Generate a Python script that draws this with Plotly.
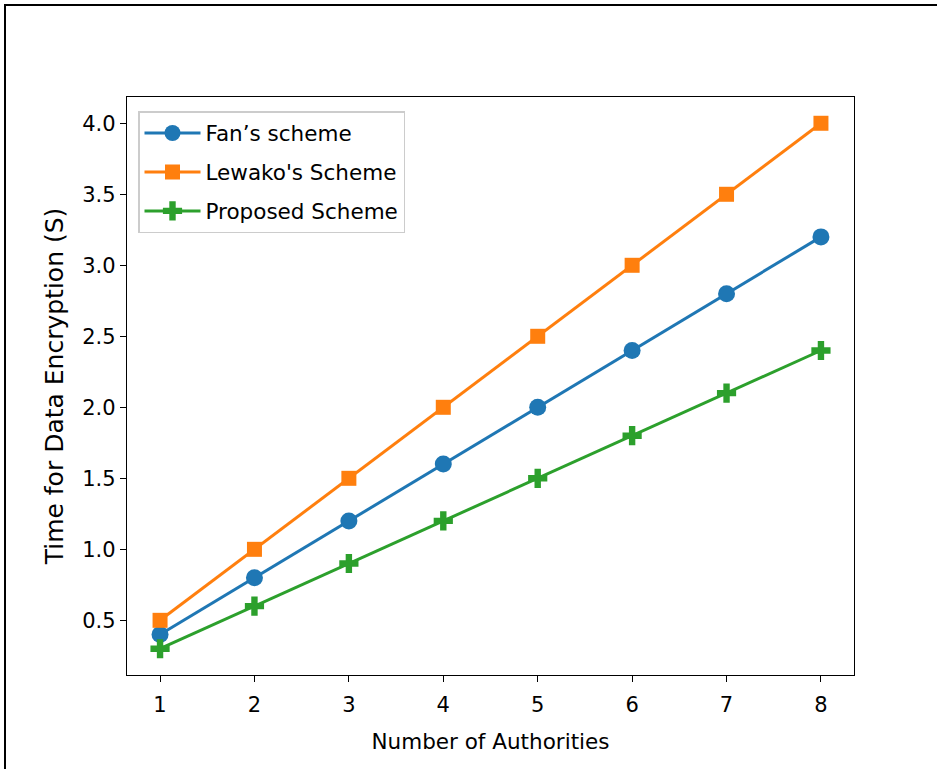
import plotly.graph_objects as go

authorities = [1, 2, 3, 4, 5, 6, 7, 8]
fan_scheme = [0.4, 0.8, 1.2, 1.6, 2.0, 2.4, 2.8, 3.2]
lewako_scheme = [0.5, 1.0, 1.5, 2.0, 2.5, 3.0, 3.5, 4.0]
proposed_scheme = [0.3, 0.6, 0.9, 1.2, 1.5, 1.8, 2.1, 2.4]

y_ticks = [0.5, 1.0, 1.5, 2.0, 2.5, 3.0, 3.5, 4.0]

FONT = "DejaVu Sans"

series = [
    ("Fan’s scheme", fan_scheme, "#1f77b4", "circle", 17),
    ("Lewako's Scheme", lewako_scheme, "#ff7f0e", "square", 15),
    ("Proposed Scheme", proposed_scheme, "#2ca02c", "cross", 16),
]

fig = go.Figure()
for i, (name, values, color, symbol, size) in enumerate(series):
    fig.add_trace(go.Scatter(
        x=authorities, y=values, name=name, mode="lines+markers",
        legendgroup=f"g{i}",
        line=dict(color=color, width=3),
        marker=dict(symbol=symbol, size=size, color=color, line=dict(width=0)),
    ))

L, R, T, B = 127, 83, 97, 94
W, H = 937, 769
pw, ph = W - L - R, H - T - B

def px(x):
    return (x - L) / pw

def py(y):
    return (H - B - y) / ph

axis_common = dict(
    showline=True, linecolor="black", linewidth=1.3, mirror=True,
    ticks="outside", ticklen=6, tickwidth=1.3, tickcolor="black",
    showgrid=False, zeroline=False,
    tickfont=dict(family=FONT, size=21, color="black"),
)

fig.update_layout(
    width=W, height=H,
    margin=dict(l=L, r=R, t=T, b=B),
    paper_bgcolor="white", plot_bgcolor="white",
    font=dict(family=FONT, color="black"),
    xaxis=dict(
        range=[0.65, 8.35], tickvals=authorities,
        ticklabelstandoff=5,
        title=dict(text="Number of Authorities", font=dict(family=FONT, size=21.5), standoff=17),
        **axis_common,
    ),
    yaxis=dict(
        range=[0.115, 4.185], tickvals=y_ticks, ticktext=[f"{v:.1f}" for v in y_ticks],
        title=dict(text="Time for Data Encryption (S)", font=dict(family=FONT, size=25), standoff=11),
        **axis_common,
    ),
    legend=dict(
        x=px(138), y=py(111), xanchor="left", yanchor="top",
        bgcolor="rgba(255,255,255,0.8)", bordercolor="#cccccc", borderwidth=1.5,
        font=dict(family=FONT, size=21.5, color="black"),
        itemwidth=56, tracegroupgap=8,
    ),
    showlegend=True,
)

# outer frame along the left and top edges of the page
fig.add_shape(type="line", xref="paper", yref="paper",
              x0=px(5), x1=px(5), y0=py(4), y1=py(H + 5),
              line=dict(color="black", width=2))
fig.add_shape(type="line", xref="paper", yref="paper",
              x0=px(4), x1=px(W + 5), y0=py(5), y1=py(5),
              line=dict(color="black", width=2))

fig.write_html("out.html")
